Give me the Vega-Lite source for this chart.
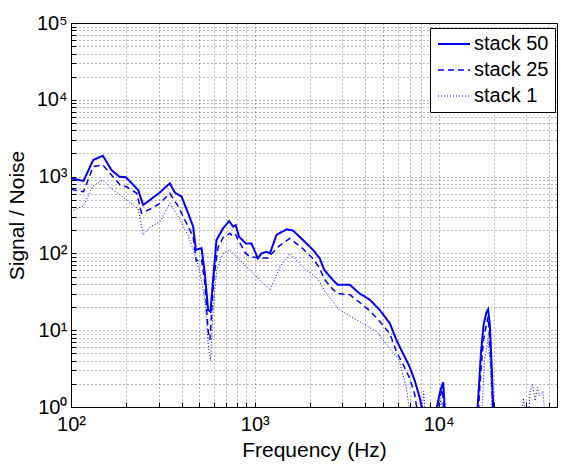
{
  "$schema": "https://vega.github.io/schema/vega-lite/v6.json",
  "width": 486,
  "height": 384,
  "autosize": "none",
  "padding": {"left": 71, "top": 23, "right": 4, "bottom": 63},
  "background": "white",
  "view": {"stroke": "black", "strokeWidth": 1},
  "config": {
    "font": "Liberation Sans",
    "axis": {
      "labelFont": "Liberation Sans", "labelFontSize": 20, "labelColor": "black",
      "titleFont": "Liberation Sans", "titleFontSize": 21, "titleFontWeight": "normal", "titleColor": "black",
      "domainColor": "black", "tickColor": "black", "grid": true, "gridColor": "#000000", "gridOpacity": 0.55,
      "gridDash": [1, 3], "labelOverlap": false, "labelBound": false, "labelFlush": false
    }
  },
  "data": {"values": [
    {"s":"stack 50","f":100,"v":950},{"s":"stack 50","f":117,"v":877},{"s":"stack 50","f":132,"v":1645},{"s":"stack 50","f":149,"v":1872},
    {"s":"stack 50","f":166,"v":1219},{"s":"stack 50","f":183,"v":997},{"s":"stack 50","f":199,"v":979},{"s":"stack 50","f":232,"v":669},
    {"s":"stack 50","f":247,"v":427},{"s":"stack 50","f":269,"v":496},{"s":"stack 50","f":305,"v":625},{"s":"stack 50","f":345,"v":818},
    {"s":"stack 50","f":368,"v":617},{"s":"stack 50","f":400,"v":547},{"s":"stack 50","f":434,"v":333},{"s":"stack 50","f":462,"v":223},
    {"s":"stack 50","f":478,"v":111},{"s":"stack 50","f":513,"v":117},{"s":"stack 50","f":535,"v":55},{"s":"stack 50","f":557,"v":18.3},
    {"s":"stack 50","f":574,"v":17.4},{"s":"stack 50","f":593,"v":45},{"s":"stack 50","f":619,"v":149},{"s":"stack 50","f":672,"v":212},
    {"s":"stack 50","f":725,"v":264},{"s":"stack 50","f":762,"v":223},{"s":"stack 50","f":787,"v":234},{"s":"stack 50","f":821,"v":165},
    {"s":"stack 50","f":893,"v":135},{"s":"stack 50","f":959,"v":135},{"s":"stack 50","f":1040,"v":86},{"s":"stack 50","f":1087,"v":100},
    {"s":"stack 50","f":1160,"v":105},{"s":"stack 50","f":1210,"v":100},{"s":"stack 50","f":1312,"v":174},{"s":"stack 50","f":1490,"v":206},
    {"s":"stack 50","f":1615,"v":198},{"s":"stack 50","f":1830,"v":149},{"s":"stack 50","f":2075,"v":111},{"s":"stack 50","f":2250,"v":87},
    {"s":"stack 50","f":2390,"v":61},{"s":"stack 50","f":2660,"v":45},{"s":"stack 50","f":2830,"v":39},{"s":"stack 50","f":3290,"v":39},
    {"s":"stack 50","f":3720,"v":30},{"s":"stack 50","f":4220,"v":25},{"s":"stack 50","f":4790,"v":18.3},{"s":"stack 50","f":5430,"v":12.3},
    {"s":"stack 50","f":5890,"v":7.5},{"s":"stack 50","f":6400,"v":5.0},{"s":"stack 50","f":6950,"v":3.35},{"s":"stack 50","f":7400,"v":2.25},
    {"s":"stack 50","f":7870,"v":1.36},{"s":"stack 50","f":8100,"v":1.0},{"s":"stack 50","f":8300,"v":0.5},{"s":"stack 50","f":9400,"v":0.5},
    {"s":"stack 50","f":9800,"v":1.0},{"s":"stack 50","f":10200,"v":1.6},{"s":"stack 50","f":10600,"v":2.1},{"s":"stack 50","f":10800,"v":1.0},
    {"s":"stack 50","f":11000,"v":0.5},{"s":"stack 50","f":16000,"v":0.5},{"s":"stack 50","f":16400,"v":1.2},{"s":"stack 50","f":17000,"v":5},
    {"s":"stack 50","f":17600,"v":12},{"s":"stack 50","f":18200,"v":17},{"s":"stack 50","f":18600,"v":18.7},{"s":"stack 50","f":19000,"v":12},
    {"s":"stack 50","f":19500,"v":3},{"s":"stack 50","f":19900,"v":0.8},{"s":"stack 50","f":20200,"v":0.5},

    {"s":"stack 25","f":100,"v":684},{"s":"stack 25","f":117,"v":636},{"s":"stack 25","f":132,"v":1346},{"s":"stack 25","f":149,"v":1416},
    {"s":"stack 25","f":166,"v":1050},{"s":"stack 25","f":185,"v":778},{"s":"stack 25","f":200,"v":739},{"s":"stack 25","f":228,"v":606},
    {"s":"stack 25","f":242,"v":333},{"s":"stack 25","f":275,"v":387},{"s":"stack 25","f":305,"v":449},{"s":"stack 25","f":345,"v":606},
    {"s":"stack 25","f":384,"v":405},{"s":"stack 25","f":434,"v":223},{"s":"stack 25","f":462,"v":165},{"s":"stack 25","f":480,"v":80},
    {"s":"stack 25","f":513,"v":85},{"s":"stack 25","f":535,"v":40},{"s":"stack 25","f":557,"v":10},{"s":"stack 25","f":570,"v":7.5},
    {"s":"stack 25","f":585,"v":20},{"s":"stack 25","f":600,"v":50},{"s":"stack 25","f":631,"v":120},{"s":"stack 25","f":672,"v":160},
    {"s":"stack 25","f":732,"v":183},{"s":"stack 25","f":762,"v":165},{"s":"stack 25","f":787,"v":175},{"s":"stack 25","f":812,"v":149},
    {"s":"stack 25","f":893,"v":100},{"s":"stack 25","f":938,"v":91},{"s":"stack 25","f":1060,"v":87},{"s":"stack 25","f":1180,"v":87},
    {"s":"stack 25","f":1340,"v":122},{"s":"stack 25","f":1550,"v":157},{"s":"stack 25","f":1830,"v":115},{"s":"stack 25","f":2075,"v":85},
    {"s":"stack 25","f":2250,"v":65},{"s":"stack 25","f":2390,"v":46},{"s":"stack 25","f":2660,"v":34},{"s":"stack 25","f":2830,"v":30},
    {"s":"stack 25","f":3290,"v":29},{"s":"stack 25","f":3720,"v":23},{"s":"stack 25","f":4220,"v":18},{"s":"stack 25","f":4790,"v":13},
    {"s":"stack 25","f":5430,"v":9},{"s":"stack 25","f":5890,"v":5.3},{"s":"stack 25","f":6400,"v":3.6},{"s":"stack 25","f":6950,"v":2.4},
    {"s":"stack 25","f":7400,"v":1.5},{"s":"stack 25","f":7600,"v":1.0},{"s":"stack 25","f":7800,"v":0.5},{"s":"stack 25","f":9600,"v":0.5},
    {"s":"stack 25","f":10000,"v":1.2},{"s":"stack 25","f":10500,"v":1.7},{"s":"stack 25","f":10800,"v":0.5},{"s":"stack 25","f":16300,"v":0.5},
    {"s":"stack 25","f":16800,"v":2},{"s":"stack 25","f":17500,"v":7},{"s":"stack 25","f":18200,"v":12},{"s":"stack 25","f":18600,"v":15},
    {"s":"stack 25","f":19000,"v":7},{"s":"stack 25","f":19500,"v":2},{"s":"stack 25","f":19900,"v":0.5},

    {"s":"stack 1","f":100,"v":350},{"s":"stack 1","f":117,"v":420},{"s":"stack 1","f":132,"v":760},{"s":"stack 1","f":149,"v":900},
    {"s":"stack 1","f":166,"v":700},{"s":"stack 1","f":200,"v":500},{"s":"stack 1","f":232,"v":380},{"s":"stack 1","f":247,"v":174},
    {"s":"stack 1","f":269,"v":220},{"s":"stack 1","f":305,"v":259},{"s":"stack 1","f":345,"v":449},{"s":"stack 1","f":384,"v":300},
    {"s":"stack 1","f":434,"v":170},{"s":"stack 1","f":470,"v":100},{"s":"stack 1","f":500,"v":60},{"s":"stack 1","f":535,"v":25},
    {"s":"stack 1","f":560,"v":6},{"s":"stack 1","f":575,"v":4},{"s":"stack 1","f":590,"v":15},{"s":"stack 1","f":620,"v":60},
    {"s":"stack 1","f":672,"v":100},{"s":"stack 1","f":730,"v":111},{"s":"stack 1","f":800,"v":90},{"s":"stack 1","f":940,"v":61},
    {"s":"stack 1","f":1065,"v":45},{"s":"stack 1","f":1210,"v":33},{"s":"stack 1","f":1300,"v":50},{"s":"stack 1","f":1370,"v":67},
    {"s":"stack 1","f":1550,"v":100},{"s":"stack 1","f":1700,"v":80},{"s":"stack 1","f":1900,"v":61},{"s":"stack 1","f":2200,"v":47},
    {"s":"stack 1","f":2450,"v":30},{"s":"stack 1","f":2900,"v":18.3},{"s":"stack 1","f":3720,"v":12.9},{"s":"stack 1","f":4600,"v":9.6},
    {"s":"stack 1","f":5430,"v":5.8},{"s":"stack 1","f":6100,"v":4.1},{"s":"stack 1","f":6670,"v":1.84},{"s":"stack 1","f":6900,"v":1.0},
    {"s":"stack 1","f":7200,"v":0.5},{"s":"stack 1","f":8000,"v":0.5},{"s":"stack 1","f":8300,"v":1.6},{"s":"stack 1","f":8600,"v":0.5},
    {"s":"stack 1","f":9800,"v":0.5},{"s":"stack 1","f":10300,"v":1.3},{"s":"stack 1","f":10800,"v":0.5},{"s":"stack 1","f":17000,"v":0.5},
    {"s":"stack 1","f":17800,"v":4},{"s":"stack 1","f":18600,"v":8},{"s":"stack 1","f":19200,"v":3},{"s":"stack 1","f":19600,"v":0.5},
    {"s":"stack 1","f":27500,"v":0.5},{"s":"stack 1","f":29000,"v":1.3},{"s":"stack 1","f":30500,"v":0.5},{"s":"stack 1","f":31500,"v":1.6},
    {"s":"stack 1","f":32500,"v":2.0},{"s":"stack 1","f":33500,"v":1.2},{"s":"stack 1","f":34500,"v":1.8},{"s":"stack 1","f":35500,"v":1.4},
    {"s":"stack 1","f":37000,"v":1.6},{"s":"stack 1","f":38500,"v":0.5}
  ]},
  "mark": {"type": "line", "color": "#0000ff", "clip": true},
  "encoding": {
    "x": {
      "field": "f", "type": "quantitative",
      "scale": {"type": "log", "domain": [100, 44100], "nice": false},
      "axis": {
        "title": "Frequency (Hz)", "titlePadding": 5, "tickSize": -5, "labelPadding": 12,
        "values": [100,200,300,400,500,600,700,800,900,1000,2000,3000,4000,5000,6000,7000,8000,9000,10000,20000,30000,40000],
        "labelExpr": "abs(log(datum.value)/LN10 - round(log(datum.value)/LN10)) < 0.001 ? '10' + ['⁰','¹','²','³','⁴','⁵'][round(log(datum.value)/LN10)] : ''"
      }
    },
    "y": {
      "field": "v", "type": "quantitative",
      "scale": {"type": "log", "domain": [1, 100000], "nice": false},
      "axis": {
        "title": "Signal / Noise", "titlePadding": 9, "tickSize": -5, "labelPadding": 9,
        "values": [1,2,3,4,5,6,7,8,9,10,20,30,40,50,60,70,80,90,100,200,300,400,500,600,700,800,900,1000,2000,3000,4000,5000,6000,7000,8000,9000,10000,20000,30000,40000,50000,60000,70000,80000,90000,100000],
        "labelExpr": "abs(log(datum.value)/LN10 - round(log(datum.value)/LN10)) < 0.001 ? '10' + ['⁰','¹','²','³','⁴','⁵'][round(log(datum.value)/LN10)] : ''"
      }
    },
    "strokeDash": {
      "field": "s", "type": "nominal",
      "scale": {"domain": ["stack 50", "stack 25", "stack 1"], "range": [[1, 0], [6, 4], [1, 2]]},
      "legend": {
        "title": null, "orient": "none", "legendX": 359, "legendY": 5,
        "strokeColor": "black", "fillColor": "white", "padding": 6,
        "labelFont": "Liberation Sans", "labelFontSize": 20, "labelColor": "black", "labelOffset": 10,
        "symbolType": "M-2,0H2", "symbolSize": 256, "symbolOffset": 8, "symbolFillColor": "transparent",
        "symbolStrokeColor": "#0000ff", "rowPadding": 6
      }
    },
    "strokeWidth": {
      "field": "s", "type": "ordinal",
      "scale": {"domain": ["stack 50", "stack 25", "stack 1"], "range": [2, 1, 1]}
    }
  }
}
